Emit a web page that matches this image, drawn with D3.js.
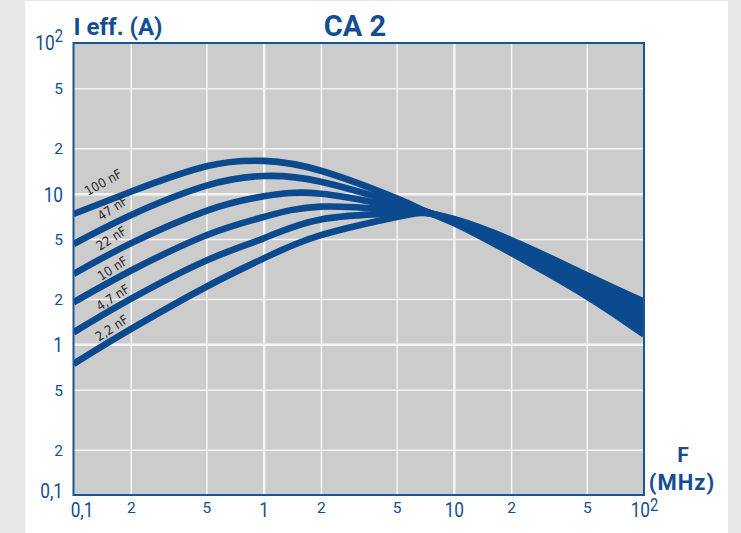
<!DOCTYPE html>
<html>
<head>
<meta charset="utf-8">
<script src="https://cdn.jsdelivr.net/npm/d3@7"></script>
<style>
  html, body { margin: 0; padding: 0; background: #e6e7e9; }
  svg { display: block; }
</style>
</head>
<body>
<svg id="chart"></svg>
<script>
const freqs = [0.1, 0.2, 0.5, 1, 2, 5, 7, 10, 20, 50, 100];

// effective current (A) for each capacitance
const i100nF = [7.33, 10.3, 15.2, 16.5, 14.2, 9.3, 7.7, 6.38, 4.04, 2.08, 1.16];
const i47nF  = [4.63, 7.2, 11.3, 13.1, 12.0, 8.7, 7.65, 6.46, 4.21, 2.22, 1.29];
const i22nF  = [2.93, 4.68, 7.7, 9.6, 10.0, 8.2, 7.6, 6.55, 4.38, 2.37, 1.42];
const i10nF  = [1.90, 3.08, 5.3, 7.0, 8.2, 7.8, 7.55, 6.63, 4.55, 2.53, 1.57];
const i4_7nF = [1.20, 2.0, 3.6, 5.05, 6.75, 7.4, 7.5, 6.71, 4.74, 2.70, 1.74];
const i2_2nF = [0.741, 1.26, 2.41, 3.72, 5.3, 7.0, 7.45, 6.8, 4.93, 2.88, 1.92];

const seriesNames = ['100 nF', '47 nF', '22 nF', '10 nF', '4,7 nF', '2,2 nF'];
const seriesValues = [i100nF, i47nF, i22nF, i10nF, i4_7nF, i2_2nF];

// where the curve names sit (data units)
const labelFreq = [0.119, 0.140, 0.138, 0.140, 0.138, 0.136];
const labelCurrent = [9.65, 6.59, 4.16, 2.63, 1.66, 1.04];

// tick labels
const xTickValues = [0.1, 0.2, 0.5, 1, 2, 5, 10, 20, 50, 100];
const xTickLabels = ['0,1', '2', '5', '1', '2', '5', '10', '2', '5', '10²'];
const yTickValues = [0.1, 0.2, 0.5, 1, 2, 5, 10, 20, 50, 100];
const yTickLabels = ['0,1', '2', '5', '1', '2', '5', '10', '2', '5', '10²'];
const gridValues = [0.2, 0.5, 1, 2, 5, 10, 20, 50];

document.addEventListener('DOMContentLoaded', () => {
    const width = 741;
    const height = 533;
    const plot = { left: 73.5, right: 644, top: 43, bottom: 495 };
    const blue = '#0b4a8f';
    const textBlue = '#134e93';

    const isDecade = v => Math.abs(Math.log10(v) - Math.round(Math.log10(v))) < 1e-9;

    const svg = d3.select('#chart')
        .attr('width', width)
        .attr('height', height);

    // page background + white panel
    svg.append('rect').attr('width', width).attr('height', height).attr('fill', '#e6e7e9');
    svg.append('rect').attr('x', 25).attr('y', 1).attr('width', 703).attr('height', height - 1).attr('fill', '#ffffff');

    const x = d3.scaleLog().domain([0.1, 100]).range([plot.left, plot.right]);
    const y = d3.scaleLog().domain([0.1, 100]).range([plot.bottom, plot.top]);

    svg.append('rect')
        .attr('x', plot.left).attr('y', plot.top)
        .attr('width', plot.right - plot.left).attr('height', plot.bottom - plot.top)
        .attr('fill', '#cccccc');

    // grid lines
    svg.append('g')
        .attr('transform', `translate(0,${plot.bottom})`)
        .call(d3.axisBottom(x).tickValues(gridValues).tickSize(-(plot.bottom - plot.top)).tickFormat(''))
        .call(g => g.select('.domain').remove())
        .selectAll('line')
        .attr('stroke', '#f4f4f4')
        .attr('stroke-width', d => isDecade(d) ? 2.5 : 1.5);

    svg.append('g')
        .attr('transform', `translate(${plot.left},0)`)
        .call(d3.axisLeft(y).tickValues(gridValues).tickSize(-(plot.right - plot.left)).tickFormat(''))
        .call(g => g.select('.domain').remove())
        .selectAll('line')
        .attr('stroke', '#f4f4f4')
        .attr('stroke-width', d => isDecade(d) ? 2.5 : 1.5);

    // curves
    svg.append('clipPath').attr('id', 'plot-clip')
        .append('rect')
        .attr('x', plot.left).attr('y', plot.top)
        .attr('width', plot.right - plot.left).attr('height', plot.bottom - plot.top);

    const line = d3.line()
        .x((d, i) => x(freqs[i]))
        .y(d => y(d))
        .curve(d3.curveNatural);

    svg.append('g')
        .attr('clip-path', 'url(#plot-clip)')
        .selectAll('path')
        .data(seriesValues)
        .enter()
        .append('path')
        .attr('d', d => line(d))
        .attr('fill', 'none')
        .attr('stroke', blue)
        .attr('stroke-width', 6.6);

    // curve names
    svg.append('g')
        .selectAll('text')
        .data(seriesNames)
        .enter()
        .append('text')
        .attr('transform', (d, i) =>
            `translate(${x(labelFreq[i])},${y(labelCurrent[i])}) rotate(${i === 0 ? -29 : -33})`)
        .attr('font-family', '"DejaVu Sans Condensed", "DejaVu Sans", sans-serif')
        .attr('font-size', 13)
        .attr('fill', '#2a2a2a')
        .text(d => d);

    // writes a label, with a superscript when it ends in ²
    function writeLabel(sel, label, supDy) {
        sel.text(null);
        if (label.endsWith('²')) {
            sel.append('tspan').text(label.slice(0, -1));
            sel.append('tspan').attr('dy', supDy).attr('font-size', 18).text('2');
        } else {
            sel.text(label);
        }
    }

    // x axis labels
    const xAxis = svg.append('g')
        .attr('transform', `translate(0,${plot.bottom})`)
        .call(d3.axisBottom(x).tickValues(xTickValues).tickSize(0).tickFormat(''));
    xAxis.select('.domain').remove();
    xAxis.selectAll('.tick text')
        .attr('fill', textBlue)
        .attr('font-family', 'Roboto, sans-serif')
        .attr('text-anchor', 'middle')
        .attr('y', null).attr('dy', null)
        .each(function(d, i) {
            const t = d3.select(this);
            const big = isDecade(d);
            const shift = i === 0 ? 8 : 0;
            t.attr('font-size', big ? 21 : 15.5)
                .attr('transform', big ? `translate(${shift},22) scale(0.82,1)` : 'translate(0,18)');
            writeLabel(t, xTickLabels[i], -6);
        });

    // y axis labels
    const yAxis = svg.append('g')
        .attr('transform', `translate(${plot.left},0)`)
        .call(d3.axisLeft(y).tickValues(yTickValues).tickSize(0).tickFormat(''));
    yAxis.select('.domain').remove();
    yAxis.selectAll('.tick text')
        .attr('fill', textBlue)
        .attr('font-family', 'Roboto, sans-serif')
        .attr('text-anchor', 'end')
        .attr('x', null).attr('dy', null)
        .each(function(d, i) {
            const t = d3.select(this);
            const big = isDecade(d);
            let dy = big ? 7.4 : 5.5;
            if (i === 0) dy = 2;
            if (i === yTickValues.length - 1) dy = 6;
            t.attr('font-size', big ? 21 : 15.5)
                .attr('transform', big ? `translate(-10.5,${dy}) scale(0.82,1)` : `translate(-10.5,${dy})`);
            writeLabel(t, yTickLabels[i], -8);
        });

    // plot border
    svg.append('rect')
        .attr('x', plot.left).attr('y', plot.top)
        .attr('width', plot.right - plot.left).attr('height', plot.bottom - plot.top)
        .attr('fill', 'none')
        .attr('stroke', '#1a5696')
        .attr('stroke-width', 2);

    // titles
    const bold = 'Roboto, sans-serif';
    svg.append('text')
        .attr('x', plot.left).attr('y', 35)
        .attr('font-family', bold).attr('font-weight', 700).attr('font-size', 24)
        .attr('fill', textBlue)
        .text('I eff. (A)');

    svg.append('text')
        .attr('x', 355).attr('y', 36)
        .attr('text-anchor', 'middle')
        .attr('font-family', bold).attr('font-weight', 700).attr('font-size', 29)
        .attr('fill', textBlue)
        .text('CA 2');

    svg.append('text')
        .attr('x', 683).attr('y', 462)
        .attr('text-anchor', 'middle')
        .attr('font-family', bold).attr('font-weight', 700).attr('font-size', 21)
        .attr('fill', textBlue)
        .text('F');

    svg.append('text')
        .attr('x', 682).attr('y', 490)
        .attr('text-anchor', 'middle')
        .attr('font-family', bold).attr('font-weight', 700).attr('font-size', 22)
        .attr('letter-spacing', 1)
        .attr('fill', textBlue)
        .text('(MHz)');
});
</script>
</body>
</html>
